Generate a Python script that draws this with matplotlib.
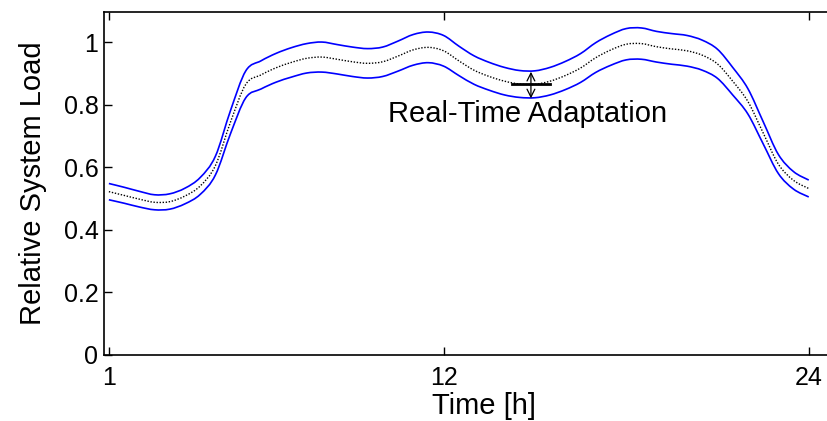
import matplotlib.pyplot as plt
from matplotlib.path import Path
from matplotlib.patches import PathPatch
import numpy as np

plt.rcParams['font.family'] = ['Liberation Sans', 'DejaVu Sans']

# hours (half-hour steps) and relative load
hours = np.arange(1, 24.5, 0.5)
load_mid = [0.522, 0.510, 0.498, 0.488, 0.490, 0.508, 0.540, 0.605, 0.745, 0.865,
            0.895, 0.918, 0.935, 0.948, 0.952, 0.945, 0.937, 0.932, 0.937, 0.955,
            0.975, 0.983, 0.972, 0.940, 0.910, 0.890, 0.875, 0.866, 0.865, 0.875,
            0.893, 0.917, 0.950, 0.975, 0.993, 0.995, 0.985, 0.978, 0.972, 0.958,
            0.930, 0.875, 0.810, 0.710, 0.610, 0.558, 0.532]
load_upper = [0.548, 0.536, 0.523, 0.512, 0.515, 0.533, 0.567, 0.635, 0.782, 0.908,
              0.940, 0.964, 0.982, 0.995, 1.000, 0.992, 0.984, 0.979, 0.984, 1.003,
              1.024, 1.032, 1.021, 0.987, 0.956, 0.935, 0.919, 0.909, 0.908, 0.919,
              0.938, 0.963, 0.998, 1.024, 1.043, 1.045, 1.034, 1.027, 1.021, 1.006,
              0.977, 0.919, 0.851, 0.746, 0.641, 0.586, 0.559]
load_lower = [0.496, 0.485, 0.473, 0.464, 0.466, 0.483, 0.513, 0.575, 0.708, 0.822,
              0.850, 0.872, 0.888, 0.901, 0.904, 0.898, 0.890, 0.885, 0.890, 0.907,
              0.926, 0.934, 0.923, 0.893, 0.865, 0.846, 0.831, 0.823, 0.822, 0.831,
              0.848, 0.871, 0.903, 0.926, 0.943, 0.945, 0.936, 0.929, 0.923, 0.910,
              0.884, 0.831, 0.770, 0.675, 0.580, 0.530, 0.505]

xticks = [1, 12, 24]
yticks = [0, 0.2, 0.4, 0.6, 0.8, 1]
ytick_labels = ['0', '0.2', '0.4', '0.6', '0.8', '1']

# annotation: arrow between bands at hour ~14.9
arrow_x = 14.87
arrow_top = 0.905
arrow_bottom = 0.82
bar_y = 0.865
bar_x = [14.25, 15.51]


def smooth_line(ax, x, y, **kw):
    # draw a smooth curve through the points (Catmull-Rom style bezier segments)
    pts = np.column_stack([x, y])
    ext = np.vstack([pts[0], pts, pts[-1]])
    verts = [pts[0]]
    codes = [Path.MOVETO]
    for i in range(len(pts) - 1):
        p0, p1, p2, p3 = ext[i], ext[i + 1], ext[i + 2], ext[i + 3]
        verts += [p1 + (p2 - p0) / 6, p2 - (p3 - p1) / 6, p2]
        codes += [Path.CURVE4] * 3
    ax.add_patch(PathPatch(Path(verts, codes), fill=False, **kw))


fig = plt.figure(figsize=(8.28, 4.21), dpi=100)
ax = fig.add_axes([104 / 828, 66 / 421, 760 / 828, 343 / 421])

smooth_line(ax, hours, load_upper, edgecolor='#0000ff', lw=1.2)
smooth_line(ax, hours, load_lower, edgecolor='#0000ff', lw=1.2)
smooth_line(ax, hours, load_mid, edgecolor='black', lw=1.0, linestyle=(0, (1, 1.2)))

ax.plot(bar_x, [bar_y, bar_y], color='black', lw=2)
ax.annotate('', xy=(arrow_x, arrow_top), xytext=(arrow_x, arrow_bottom),
            arrowprops=dict(arrowstyle='<->', color='black', lw=0.9,
                            shrinkA=0, shrinkB=0, mutation_scale=14))
ax.text(14.77, 0.77, 'Real-Time Adaptation', fontsize=21, ha='center', va='center')

ax.set_xlim(0.84, 0.84 + 760 / 30.43)
ax.set_ylim(0, 1.096)
ax.set_xticks(xticks)
ax.set_xticklabels([str(t) for t in xticks])
ax.set_yticks(yticks)
ax.set_yticklabels(ytick_labels)
ax.tick_params(direction='in', length=6, width=1, labelsize=18, top=True, right=True)
ax.tick_params(axis='x', pad=8)
ax.tick_params(axis='y', pad=4)
for s in ax.spines.values():
    s.set_linewidth(1.2)

ax.set_xlabel('Time [h]', fontsize=21, labelpad=1)
ax.set_ylabel('Relative System Load', fontsize=21, labelpad=12)

fig.savefig('out.png', dpi=100)
